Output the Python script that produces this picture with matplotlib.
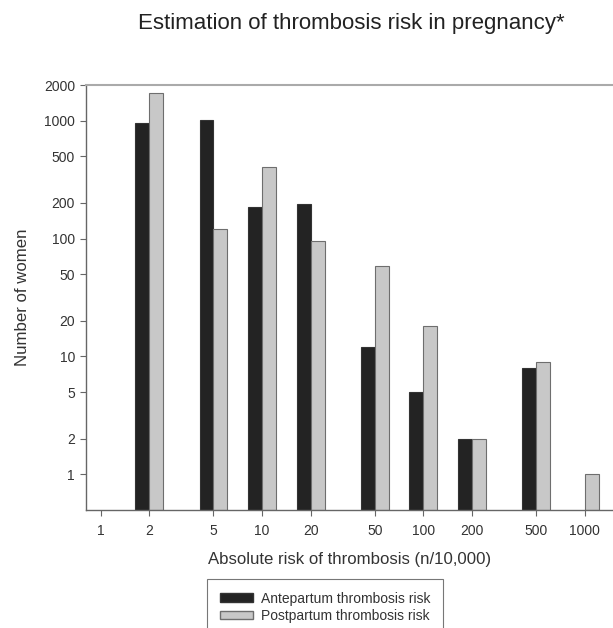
import matplotlib
matplotlib.use("Agg")
import matplotlib.pyplot as plt
import numpy as np
from matplotlib.patches import Patch

plt.rcParams['font.family'] = ['Liberation Sans', 'DejaVu Sans']

risk = [1, 2, 5, 10, 20, 50, 100, 200, 500, 1000]
antepartum = [0, 950, 1020, 186, 198, 12, 5, 2, 8, 0]
postpartum = [0, 1710, 120, 400, 95, 59, 18, 2, 9, 1]
yticks = [1, 2, 5, 10, 20, 50, 100, 200, 500, 1000, 2000]

fig = plt.figure(figsize=(6.13, 6.28), dpi=100)
ax = fig.add_axes([86/613, 1-510/628, 1-86/613, (510-85)/628])

f = 1.221
x = np.array(risk, dtype=float)
a = np.array(antepartum, dtype=float)
p = np.array(postpartum, dtype=float)
ma = a > 0
mp = p > 0
ax.bar(x[ma]/f, a[ma]-0.5, width=x[ma]-x[ma]/f, align='edge', bottom=0.5,
       color='#232323', edgecolor='#333333', linewidth=0.8)
ax.bar(x[mp], p[mp]-0.5, width=x[mp]*f-x[mp], align='edge', bottom=0.5,
       color='#c8c8c8', edgecolor='#6e6e6e', linewidth=0.8)

ax.set_xscale('log')
ax.set_yscale('log')
ax.set_xlim(0.81, 1500)
ax.set_ylim(0.5, 2000)
ax.set_xticks(risk)
ax.set_xticklabels([str(r) for r in risk])
ax.set_yticks(yticks)
ax.set_yticklabels([str(t) for t in yticks])
ax.minorticks_off()
ax.tick_params(axis='both', direction='out', length=4, width=0.8,
               color='#666666', labelcolor='#333333', labelsize=10)
ax.tick_params(axis='x', pad=6)
ax.tick_params(axis='y', pad=4)
for s in ['left', 'bottom']:
    ax.spines[s].set_color('#666666')
    ax.spines[s].set_linewidth(1.0)
ax.spines['top'].set_color('#aaaaaa')
ax.spines['top'].set_linewidth(1.5)
ax.spines['right'].set_visible(False)

ax.set_xlabel('Absolute risk of thrombosis (n/10,000)', fontsize=12.1,
              color='#333333', labelpad=10)
ax.set_ylabel('Number of women', fontsize=12.1, color='#333333', labelpad=10)
fig.text(351/613, 1-29/628, 'Estimation of thrombosis risk in pregnancy*',
         ha='center', va='baseline', fontsize=16, color='#222222')

handles = [Patch(facecolor='#232323', edgecolor='#333333', label='Antepartum thrombosis risk'),
           Patch(facecolor='#c8c8c8', edgecolor='#6e6e6e', label='Postpartum thrombosis risk')]
leg = fig.legend(handles=handles, loc='upper left', bbox_to_anchor=(207/613, 1-579/628),
                 frameon=True, fancybox=False, fontsize=10, handlelength=2.4,
                 handleheight=0.6, labelspacing=0.25, borderpad=0.9,
                 handletextpad=0.6, borderaxespad=0)
leg.get_frame().set_edgecolor('#555555')
leg.get_frame().set_linewidth(0.8)
for t in leg.get_texts():
    t.set_color('#333333')

fig.savefig('out.png', dpi=100)
